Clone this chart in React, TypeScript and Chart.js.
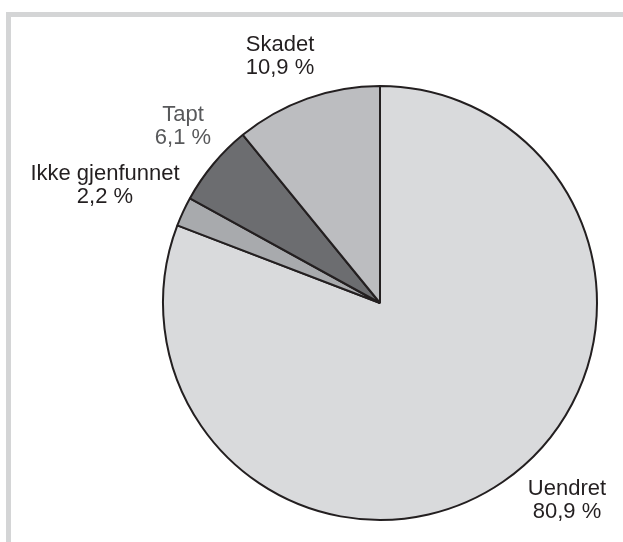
import React, { useEffect, useRef } from "react";
import { Chart, registerables } from "chart.js";

Chart.register(...registerables);

const categories = ["Uendret", "Ikke gjenfunnet", "Tapt", "Skadet"];
const shares = [80.9, 2.2, 6.1, 10.9];
const sliceColors = ["#d9dadc", "#a8aaad", "#6c6d70", "#bcbdc0"];
const labelColors = ["#231f20", "#231f20", "#58595b", "#231f20"];
// label block offsets from pie centre (dx, dy)
const labelOffsets = [
  [187, 195],
  [-275, -120],
  [-197, -179],
  [-100, -249],
];

const fmt = (v: number) => v.toFixed(1).replace(".", ",") + " %";

const labelPlugin = {
  id: "sliceLabels",
  afterDraw(chart: any) {
    const meta = chart.getDatasetMeta(0);
    const ctx = chart.ctx;
    ctx.save();
    ctx.font = '22px "Liberation Sans", Arial, sans-serif';
    ctx.textAlign = "center";
    ctx.textBaseline = "alphabetic";
    meta.data.forEach((arc: any, i: number) => {
      const cx = arc.x + labelOffsets[i][0];
      const cy = arc.y + labelOffsets[i][1];
      ctx.fillStyle = labelColors[i];
      ctx.fillText(categories[i], cx, cy - 11.5 + 8);
      ctx.fillText(fmt(shares[i]), cx, cy + 11.5 + 8);
    });
    ctx.restore();
  },
};

export default function App() {
  const ref = useRef<HTMLCanvasElement>(null);
  useEffect(() => {
    if (!ref.current) return;
    const chart = new Chart(ref.current, {
      type: "pie",
      data: {
        labels: categories,
        datasets: [
          {
            data: shares,
            backgroundColor: sliceColors,
            borderColor: "#231f20",
            borderWidth: 2,
            hoverOffset: 0,
          },
        ],
      },
      options: {
        responsive: false,
        animation: false,
        radius: 217,
        layout: { padding: { left: 150, right: 13, top: 74, bottom: 10 } },
        plugins: {
          legend: { display: false },
          tooltip: { enabled: false },
          title: { display: false },
        },
      },
      plugins: [labelPlugin],
    });
    return () => chart.destroy();
  }, []);

  return (
    <div
      style={{
        position: "fixed",
        left: 0,
        top: 0,
        width: 623,
        height: 542,
        background: "#ffffff",
        overflow: "hidden",
      }}
    >
      <div
        style={{
          position: "absolute",
          left: 6,
          top: 12,
          right: 0,
          bottom: 0,
          borderTop: "5px solid #d4d5d6",
          borderLeft: "5px solid #d4d5d6",
        }}
      />
      <canvas
        ref={ref}
        width={623}
        height={542}
        style={{ position: "absolute", left: 0, top: 0, width: 623, height: 542 }}
      />
    </div>
  );
}
